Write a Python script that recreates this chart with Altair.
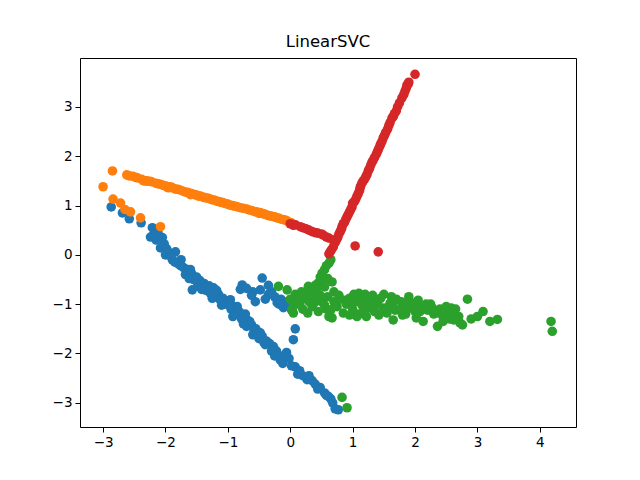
import pandas as pd
import altair as alt

# class 0 (blue)
blue_x = [-2.87, -2.69, -2.58, -2.39, -2.21, -2.18, -2.24, -2.15, -2.08, -2.02, -1.95, -1.84,
          -1.89, -1.80, -1.71, -1.65, -1.58, -1.50, -1.45, -1.38, -1.30, -1.23, -1.15, -1.08,
          -1.00, -0.96, -0.90, -0.82, -0.75, -0.69, -0.62, -0.55, -0.53, -0.45, -0.38, -0.27,
          -0.22, -0.16, -0.10, -0.02, 0.08, 0.15, 0.27, 0.35, 0.40, 0.48, 0.55, 0.61, 0.65,
          0.77, 0.72, -1.57, -0.77, -0.80, -0.45, -0.48, -0.56, -0.60, -0.35, -0.21, -0.11,
          -0.05, 0.08, 0.05, -0.40, -0.25, -1.40, -1.20, -0.95, -0.70, -0.50, -1.60, -1.75,
          -2.00, -1.92, -1.85, -1.76, -1.68, -1.55, -1.48, -1.35, -1.28, -1.18, -1.12, -1.05,
          -0.98, -0.88, -0.85, -0.78, -0.72, -0.65, -0.58, -0.48, -0.42, -0.33, -0.30, -0.20,
          -0.12, -0.06, 0.02, 0.12, 0.20, 0.30, 0.44, 0.58, 0.68, -2.12, -2.05, -1.98,
          -0.30, -0.15, -0.62, -0.70, -0.18, -0.02, -0.35,
          -1.62, -1.42, -1.25, -1.10, -0.92, -0.75, -0.60, -0.40, -0.25]
blue_y = [0.97, 0.85, 0.73, 0.65, 0.55, 0.45, 0.36, 0.30, 0.14, 0.22, 0.05, 0.06,
          -0.10, -0.18, -0.26, -0.30, -0.38, -0.45, -0.52, -0.58, -0.63, -0.67, -0.80, -0.88,
          -0.95, -0.91, -1.05, -1.15, -1.22, -1.32, -1.42, -1.50, -1.56, -1.65, -1.75, -1.86,
          -1.95, -2.13, -2.05, -2.10, -2.27, -2.35, -2.53, -2.55, -2.62, -2.69, -2.80, -2.87, -2.92,
          -3.14, -3.12, -0.71, -0.61, -0.70, -0.47, -0.71, -0.95, -0.75, -0.80, -0.97, -1.07,
          -0.95, -1.50, -1.72, -0.90, -0.85, -0.65, -0.85, -1.10, -1.45, -1.70, -0.30, -0.10,
          0.00, -0.02, -0.15, -0.22, -0.40, -0.50, -0.60, -0.72, -0.78, -0.72, -0.92, -1.00,
          -1.02, -1.18, -1.05, -1.30, -1.20, -1.35, -1.55, -1.58, -1.78, -1.80, -1.95, -2.02,
          -2.20, -1.98, -2.25, -2.42, -2.45, -2.45, -2.72, -2.85, -3.00, 0.45, 0.35, 0.12,
          -0.75, -0.90, -0.82, -0.68, -1.00, -1.05, -0.62,
          -0.48, -0.70, -0.88, -1.02, -1.25, -1.40, -1.62, -1.82, -2.05]

# class 1 (orange)
orange_x = [-3.00, -2.85, -2.84, -2.72, -2.65, -2.56, -2.40, -2.08, -2.62, -2.52, -2.45, -2.38,
            -2.30, -2.22, -2.15, -2.08, -2.00, -1.93, -1.86, -1.80, -1.72, -1.65, -1.58, -1.50,
            -1.44, -1.37, -1.30, -1.22, -1.15, -1.08, -1.00, -0.93, -0.86, -0.78, -0.70, -0.62,
            -0.55, -0.47, -0.40, -0.33, -0.25, -0.18, -0.10, -0.04, 0.02, -1.95, -1.60, -1.10,
            -0.50, -2.30, -2.58, -2.48, -2.35, -2.25, -2.12, -2.04, -1.97, -1.90, -1.83, -1.76,
            -1.68, -1.62, -1.53, -1.47, -1.40, -1.33, -1.26, -1.18, -1.12, -1.04, -0.97, -0.90,
            -0.82, -0.74, -0.66, -0.58, -0.51, -0.43, -0.36, -0.29, -0.21, -0.14, -0.07]
orange_y = [1.38, 1.70, 1.13, 1.05, 0.92, 0.87, 0.75, 0.57, 1.62, 1.59, 1.56, 1.53,
            1.50, 1.48, 1.45, 1.43, 1.40, 1.38, 1.34, 1.33, 1.29, 1.27, 1.24, 1.21,
            1.19, 1.16, 1.14, 1.11, 1.08, 1.06, 1.03, 1.00, 0.98, 0.95, 0.93, 0.90,
            0.87, 0.85, 0.82, 0.79, 0.77, 0.74, 0.71, 0.68, 0.65, 1.36, 1.22, 1.06,
            0.84, 1.49, 1.60, 1.57, 1.50, 1.49, 1.44, 1.41, 1.37, 1.37, 1.33, 1.31,
            1.27, 1.25, 1.22, 1.19, 1.17, 1.15, 1.12, 1.09, 1.07, 1.04, 1.01, 0.99,
            0.96, 0.94, 0.91, 0.88, 0.86, 0.83, 0.80, 0.78, 0.75, 0.72, 0.70]

# class 2 (green)
green_x = [0.65, 0.62, 0.58, 0.55, 0.51, 0.48, 0.45, 0.40, 0.67, 0.29, 0.35, -0.19, -0.05,
           0.00, 0.05, 0.10, 0.15, 0.20, 0.25, 0.30, 0.35, 0.40, 0.45, 0.50, 0.55, 0.60,
           0.65, 0.70, 0.75, 0.80, 0.85, 0.90, 0.95, 1.00, 1.05, 1.10, 1.15, 1.20, 1.25,
           1.30, 1.35, 1.40, 1.45, 1.50, 1.55, 1.60, 1.65, 1.70, 1.75, 1.80, 1.85, 1.90,
           1.95, 2.00, 2.05, 2.10, 2.13, 2.20, 2.25, 2.30, 2.36, 2.40, 2.45, 2.50, 2.55,
           2.60, 2.65, 2.72, 2.76, 2.84, 2.90, 3.00, 3.09, 3.20, 3.32, 4.18, 4.20, 0.83, 0.91,
           0.70, 1.10, 1.50, 1.90, 0.30, 0.05, 0.67, 1.07, 1.65,
           0.12, 0.22, 0.38, 0.48, 0.58, 0.72, 0.88, 0.98, 1.08, 1.18, 1.28, 1.38, 1.48,
           1.58, 1.68, 1.78, 1.88, 1.98, 2.08, 2.18, 2.28, 2.38, 2.48, 2.58, 2.62, 2.70,
           2.45, 0.18, 0.42, 0.55, 0.60, 0.52, 0.40, 0.08, 0.02, 0.28, 0.62, 0.95, 1.22,
           1.42, 1.80, 2.02, 0.78, 1.02, 1.32, 1.62, 1.20]
green_y = [-0.10, -0.17, -0.22, -0.30, -0.37, -0.45, -0.57, -0.62, -0.55, -0.64, -0.72, -0.64, -0.71,
           -0.90, -1.05, -0.85, -0.98, -1.10, -0.80, -0.95, -1.05, -0.88, -1.15, -0.95, -1.02, -0.85,
           -1.12, -0.95, -1.05, -0.90, -1.18, -1.00, -0.88, -1.10, -0.95, -1.20, -1.02, -0.90, -1.08,
           -0.95, -1.15, -1.00, -0.88, -1.08, -1.18, -0.98, -1.05, -0.90, -1.12, -1.00, -1.20, -0.95,
           -1.08, -1.15, -0.92, -1.05, -1.35, -1.12, -1.00, -1.20, -1.45, -1.10, -1.25, -1.05, -1.30,
           -1.20, -1.10, -1.38, -1.42, -0.90, -1.30, -1.25, -1.15, -1.35, -1.31, -1.35, -1.55, -2.89, -3.10,
           -0.75, -0.78, -0.80, -0.85, -0.78, -1.18, -1.28, -1.25, -1.32,
           -0.95, -0.88, -0.98, -0.82, -1.10, -1.02, -0.92, -1.02, -0.88, -1.12, -1.00, -0.92, -1.15,
           -1.05, -1.12, -0.95, -1.05, -0.98, -1.15, -1.00, -1.08, -1.18, -1.15, -1.08, -1.32, -1.25,
           -1.35, -0.75, -0.70, -0.65, -0.48, -0.52, -0.80, -0.80, -1.12, -1.18, -1.25, -1.22, -1.25,
           -1.22, -1.22, -1.28, -0.82, -0.80, -0.82, -0.85, -0.80]

# class 3 (red)
red_x = [0.00, 0.08, 0.16, 0.25, 0.35, 0.44, 0.53, 0.62, 0.69,
         0.62, 0.66, 0.69, 0.72, 0.76, 0.80, 0.83, 0.87, 0.91, 0.95, 0.99, 1.03, 1.07, 1.11,
         1.15, 1.19, 1.23, 1.27, 1.31, 1.35, 1.40, 1.44, 1.49, 1.53, 1.58, 1.63, 1.67, 1.72,
         1.79, 1.84, 1.87, 1.90, 2.00, 1.04, 1.41, 1.00, 1.12, 1.25, 0.85, 0.78, 1.60, 1.45,
         0.64, 0.74, 0.82, 0.89, 0.93, 0.97, 1.05, 1.09, 1.13, 1.17, 1.21, 1.29, 1.33, 1.38,
         1.42, 1.47, 1.51, 1.56, 1.65, 1.70, 1.75, 1.82, 1.86, 1.89, 0.05, 0.20, 0.30, 0.40,
         0.50, 0.58]
red_y = [0.63, 0.61, 0.57, 0.53, 0.47, 0.44, 0.40, 0.34, 0.30,
         0.02, 0.10, 0.16, 0.25, 0.35, 0.47, 0.57, 0.66, 0.77, 0.87, 0.97, 1.08, 1.19, 1.30,
         1.46, 1.53, 1.63, 1.75, 1.88, 1.97, 2.10, 2.22, 2.37, 2.48, 2.62, 2.77, 2.86, 3.00,
         3.18, 3.32, 3.44, 3.50, 3.66, 0.18, 0.06, 1.05, 1.36, 1.70, 0.63, 0.42, 2.68, 2.25,
         0.06, 0.30, 0.52, 0.72, 0.82, 0.92, 1.13, 1.24, 1.40, 1.50, 1.58, 1.82, 1.92, 2.04,
         2.16, 2.30, 2.42, 2.55, 2.80, 2.92, 3.08, 3.25, 3.38, 3.46, 0.60, 0.55, 0.50, 0.45,
         0.42, 0.36]

frames = []
for cls, xs, ys in [(0, blue_x, blue_y), (1, orange_x, orange_y),
                    (2, green_x, green_y), (3, red_x, red_y)]:
    frames.append(pd.DataFrame({'x': xs, 'y': ys, 'cls': cls}))
df = pd.concat(frames, ignore_index=True)
df['order'] = df.index

chart = alt.Chart(df).mark_circle(size=92, opacity=1).encode(
    x=alt.X('x:Q', title=None,
            scale=alt.Scale(domain=[-3.37, 4.58], nice=False, zero=False),
            axis=alt.Axis(values=[-3, -2, -1, 0, 1, 2, 3, 4], format='d')),
    y=alt.Y('y:Q', title=None,
            scale=alt.Scale(domain=[-3.49, 3.99], nice=False, zero=False),
            axis=alt.Axis(values=[-3, -2, -1, 0, 1, 2, 3], format='d')),
    color=alt.Color('cls:N', legend=None,
                    scale=alt.Scale(domain=[0, 1, 2, 3],
                                    range=['#1f77b4', '#ff7f0e', '#2ca02c', '#d62728'])),
    order=alt.Order('order:Q'),
).properties(
    width=496,
    height=369,
    title=alt.TitleParams('LinearSVC', fontSize=16.5, font='DejaVu Sans',
                          fontWeight='normal', color='black', offset=8),
    autosize=alt.AutoSizeParams(type='none'),
    padding={'left': 72, 'top': 50, 'right': 56, 'bottom': 45},
).configure_axis(
    grid=False,
    domain=False,
    tickColor='black',
    tickSize=5,
    tickWidth=1,
    labelFont='DejaVu Sans',
    labelFontSize=13.5,
    labelColor='black',
    labelPadding=3,
).configure_view(
    stroke='black',
    strokeWidth=1,
)

chart.save("out.html", embed_options={"renderer": "svg", "actions": False})
